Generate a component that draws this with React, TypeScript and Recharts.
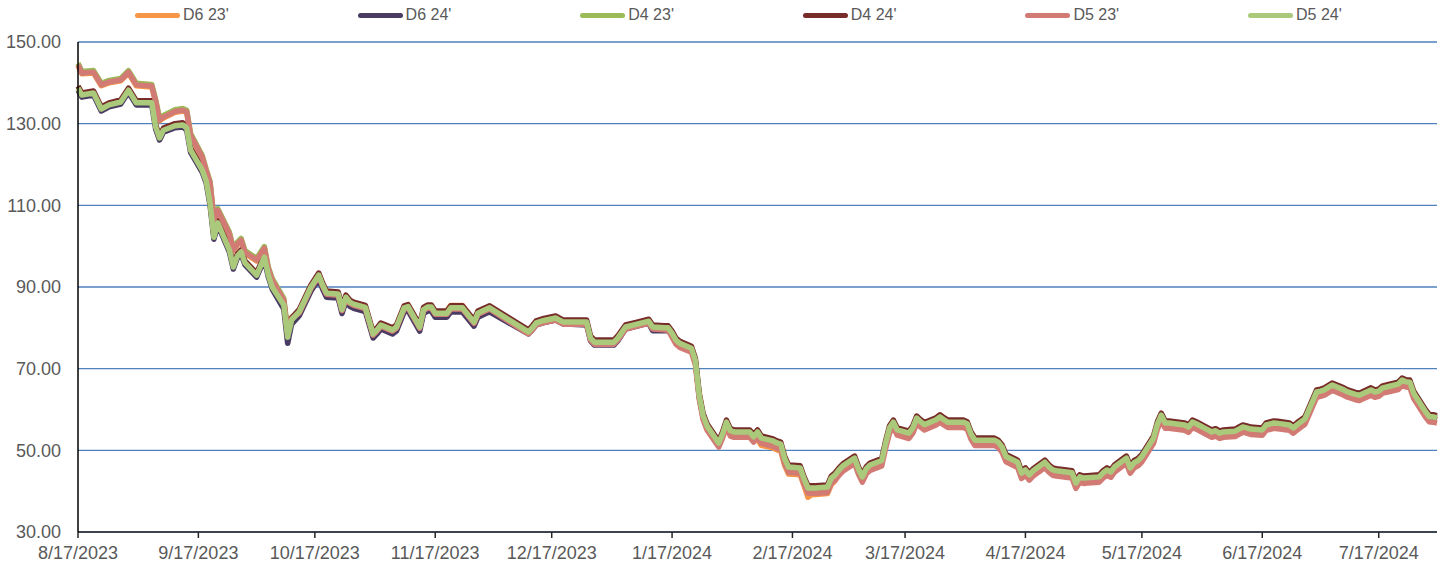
import { LineChart, Line, XAxis, YAxis, CartesianGrid, Legend } from 'recharts';

// trading dates shown on the chart
const dates: string[] = [
  '2023-08-17', '2023-08-18', '2023-08-21', '2023-08-23', '2023-08-25', '2023-08-28', '2023-08-30', '2023-09-01', '2023-09-05', '2023-09-06',
  '2023-09-07', '2023-09-08', '2023-09-11', '2023-09-13', '2023-09-14', '2023-09-15', '2023-09-18', '2023-09-19', '2023-09-20', '2023-09-21',
  '2023-09-22', '2023-09-25', '2023-09-26', '2023-09-27', '2023-09-28', '2023-09-29', '2023-10-02', '2023-10-04', '2023-10-05', '2023-10-06',
  '2023-10-09', '2023-10-10', '2023-10-11', '2023-10-13', '2023-10-16', '2023-10-18', '2023-10-19', '2023-10-20', '2023-10-23', '2023-10-24',
  '2023-10-25', '2023-10-26', '2023-10-27', '2023-10-30', '2023-11-01', '2023-11-02', '2023-11-03', '2023-11-06', '2023-11-07', '2023-11-09',
  '2023-11-10', '2023-11-13', '2023-11-14', '2023-11-15', '2023-11-16', '2023-11-17', '2023-11-20', '2023-11-21', '2023-11-24', '2023-11-27',
  '2023-11-28', '2023-11-30', '2023-12-01', '2023-12-11', '2023-12-12', '2023-12-13', '2023-12-15', '2023-12-18', '2023-12-20', '2023-12-22',
  '2023-12-26', '2023-12-27', '2023-12-28', '2024-01-02', '2024-01-03', '2024-01-05', '2024-01-08', '2024-01-10', '2024-01-11', '2024-01-12',
  '2024-01-15', '2024-01-16', '2024-01-17', '2024-01-18', '2024-01-19', '2024-01-22', '2024-01-23', '2024-01-24', '2024-01-25', '2024-01-26',
  '2024-01-29', '2024-01-30', '2024-01-31', '2024-02-01', '2024-02-02', '2024-02-05', '2024-02-06', '2024-02-07', '2024-02-08', '2024-02-09',
  '2024-02-12', '2024-02-13', '2024-02-14', '2024-02-15', '2024-02-16', '2024-02-19', '2024-02-20', '2024-02-21', '2024-02-22', '2024-02-23',
  '2024-02-26', '2024-02-27', '2024-02-28', '2024-02-29', '2024-03-01', '2024-03-04', '2024-03-05', '2024-03-06', '2024-03-07', '2024-03-08',
  '2024-03-11', '2024-03-12', '2024-03-13', '2024-03-14', '2024-03-15', '2024-03-18', '2024-03-19', '2024-03-20', '2024-03-21', '2024-03-22',
  '2024-03-25', '2024-03-26', '2024-03-27', '2024-03-28', '2024-04-01', '2024-04-02', '2024-04-03', '2024-04-04', '2024-04-05', '2024-04-08',
  '2024-04-09', '2024-04-10', '2024-04-11', '2024-04-12', '2024-04-15', '2024-04-16', '2024-04-17', '2024-04-18', '2024-04-19', '2024-04-22',
  '2024-04-23', '2024-04-24', '2024-04-25', '2024-04-26', '2024-04-29', '2024-04-30', '2024-05-01', '2024-05-02', '2024-05-03', '2024-05-06',
  '2024-05-07', '2024-05-08', '2024-05-09', '2024-05-10', '2024-05-13', '2024-05-14', '2024-05-15', '2024-05-16', '2024-05-17', '2024-05-20',
  '2024-05-21', '2024-05-22', '2024-05-23', '2024-05-24', '2024-05-28', '2024-05-29', '2024-05-30', '2024-05-31', '2024-06-03', '2024-06-04',
  '2024-06-05', '2024-06-06', '2024-06-07', '2024-06-10', '2024-06-11', '2024-06-12', '2024-06-13', '2024-06-14', '2024-06-17', '2024-06-18',
  '2024-06-20', '2024-06-21', '2024-06-24', '2024-06-25', '2024-06-26', '2024-06-27', '2024-06-28', '2024-07-01', '2024-07-02', '2024-07-03',
  '2024-07-05', '2024-07-08', '2024-07-09', '2024-07-10', '2024-07-11', '2024-07-12', '2024-07-15', '2024-07-16', '2024-07-17', '2024-07-18',
  '2024-07-19', '2024-07-22', '2024-07-23', '2024-07-24', '2024-07-25', '2024-07-26', '2024-07-29', '2024-07-30', '2024-07-31', '2024-08-01',
];

const d6_23: number[] = [
  144.2, 142.2, 142.4, 139.3, 140.0, 140.5, 142.4, 139.3, 139.0, 135.3,
  130.7, 131.4, 132.8, 133.1, 132.7, 127.0, 121.6, 118.3, 115.3, 106.3,
  108.6, 102.8, 98.9, 100.3, 101.3, 98.3, 96.4, 99.3, 94.3, 91.5,
  86.6, 78.5, 82.0, 83.8, 89.8, 92.7, 90.3, 88.3, 88.1, 84.3,
  87.3, 86.1, 85.6, 84.8, 78.3, 79.3, 80.5, 79.3, 80.0, 84.7,
  85.0, 80.0, 84.3, 84.9, 84.9, 83.4, 84.2, 85.5, 85.5, 81.2,
  83.4, 84.3, 84.7, 78.8, 79.8, 81.0, 81.6, 82.2, 81.2, 81.2,
  81.2, 77.3, 76.3, 76.3, 77.3, 80.0, 80.7, 81.2, 81.4, 80.0,
  79.8, 79.8, 78.5, 76.8, 76.0, 74.8, 71.8, 63.3, 58.3, 55.8,
  51.6, 53.8, 56.7, 54.6, 54.3, 54.3, 54.3, 53.1, 52.7, 51.2,
  50.6, 50.1, 49.8, 46.3, 44.2, 44.0, 41.3, 38.5, 39.2, 39.2,
  39.4, 41.6, 42.6, 45.0, 46.0, 47.9, 45.3, 43.3, 45.3, 46.2,
  47.3, 51.6, 55.3, 56.7, 54.8, 54.0, 55.3, 57.7, 56.8, 56.1,
  57.3, 58.0, 57.3, 56.7, 56.7, 56.3, 53.8, 52.3, 52.3, 52.3,
  52.3, 51.8, 50.6, 48.3, 46.9, 44.2, 45.0, 43.8, 44.8, 46.9,
  45.8, 45.0, 44.8, 44.7, 44.3, 41.8, 43.3, 43.0, 43.1, 43.3,
  44.3, 45.0, 44.5, 45.8, 47.9, 45.5, 46.8, 47.3, 48.3, 52.8,
  56.3, 58.4, 56.5, 56.5, 56.0, 55.5, 56.7, 56.3, 54.8, 54.3,
  54.6, 54.0, 54.3, 54.5, 55.0, 55.5, 55.3, 55.0, 54.8, 56.0,
  56.5, 56.4, 56.0, 55.3, 56.1, 56.8, 57.5, 64.1, 64.3, 64.6,
  65.8, 64.6, 64.1, 63.8, 63.5, 63.3, 64.6, 64.1, 64.3, 65.1,
  65.3, 66.0, 67.0, 66.6, 66.5, 63.8, 59.3, 58.1, 58.0, 57.8,
];

const d6_24: number[] = [
  138.2, 136.5, 137.0, 133.1, 134.1, 134.8, 137.7, 134.6, 134.6, 128.7,
  126.0, 127.9, 129.0, 129.2, 128.4, 123.0, 118.1, 115.5, 110.1, 101.7,
  105.2, 98.5, 94.4, 97.0, 98.1, 95.4, 92.4, 96.8, 92.5, 89.5,
  84.6, 76.2, 80.9, 83.0, 89.0, 91.9, 89.5, 87.5, 87.3, 83.5,
  86.5, 85.3, 84.8, 84.0, 77.5, 78.5, 79.7, 78.5, 79.2, 83.9,
  84.2, 79.2, 83.5, 84.1, 84.1, 82.6, 82.6, 83.9, 83.9, 80.4,
  82.6, 83.5, 83.9, 78.5, 79.5, 80.7, 81.3, 81.9, 80.9, 80.9,
  80.7, 76.8, 75.8, 75.8, 76.8, 79.7, 80.4, 80.9, 81.1, 79.3,
  79.3, 79.3, 78.2, 76.5, 75.7, 74.5, 71.5, 63.0, 58.0, 55.5,
  51.3, 53.5, 56.4, 54.3, 54.0, 54.0, 54.0, 52.8, 54.0, 52.5,
  51.8, 51.3, 51.0, 47.5, 45.4, 45.2, 42.5, 40.3, 40.3, 40.3,
  40.5, 42.7, 43.5, 44.7, 45.7, 47.6, 45.0, 43.0, 45.0, 45.9,
  47.0, 51.3, 55.0, 56.4, 54.5, 53.7, 55.0, 57.4, 56.5, 55.8,
  57.0, 57.7, 57.0, 56.4, 56.4, 56.0, 53.5, 52.0, 52.0, 52.0,
  52.0, 51.5, 50.3, 48.0, 46.6, 43.9, 44.7, 43.5, 44.5, 46.6,
  45.5, 44.7, 44.5, 44.4, 44.0, 41.5, 43.0, 42.7, 42.8, 43.0,
  44.0, 44.7, 44.2, 45.5, 47.6, 45.2, 46.5, 47.0, 48.0, 52.5,
  56.0, 58.1, 56.2, 56.2, 55.7, 55.2, 56.4, 56.0, 54.5, 54.0,
  54.3, 53.7, 54.0, 54.2, 54.7, 55.2, 55.0, 54.7, 54.5, 55.7,
  56.2, 56.1, 55.7, 55.0, 55.8, 56.5, 57.2, 63.8, 64.0, 64.3,
  65.5, 64.3, 63.8, 63.5, 63.2, 63.0, 64.3, 63.8, 64.0, 64.8,
  65.0, 65.7, 66.7, 66.3, 66.2, 63.5, 59.0, 57.8, 57.7, 57.5,
];

const d4_23: number[] = [
  144.8, 142.8, 143.0, 139.9, 140.6, 141.1, 143.0, 139.9, 139.6, 135.9,
  131.3, 132.0, 133.4, 133.7, 133.3, 127.6, 122.2, 118.9, 115.9, 106.9,
  109.2, 103.4, 99.5, 100.9, 101.9, 98.9, 97.0, 99.9, 94.9, 92.1,
  87.2, 79.1, 82.6, 84.0, 90.0, 92.9, 90.5, 88.5, 88.3, 84.5,
  87.5, 86.3, 85.8, 85.0, 78.5, 79.5, 80.7, 79.5, 80.2, 84.9,
  85.2, 80.2, 84.5, 85.1, 85.1, 83.6, 83.6, 84.9, 84.9, 81.4,
  83.6, 84.5, 84.9, 79.0, 80.0, 81.2, 81.8, 82.4, 81.4, 81.4,
  81.4, 77.5, 76.5, 76.5, 77.5, 80.2, 80.9, 81.4, 81.6, 80.2,
  80.0, 80.0, 78.7, 77.0, 76.2, 75.0, 72.0, 63.5, 58.5, 56.0,
  51.8, 54.0, 56.9, 54.8, 54.5, 54.5, 54.5, 53.3, 54.5, 53.0,
  52.3, 51.8, 51.5, 48.0, 45.9, 45.7, 43.0, 40.8, 40.8, 40.8,
  41.0, 43.2, 44.0, 45.2, 46.2, 48.1, 45.5, 43.5, 45.5, 46.4,
  47.5, 51.8, 55.5, 56.9, 55.0, 54.2, 55.5, 57.9, 57.0, 56.3,
  57.5, 58.2, 57.5, 56.9, 56.9, 56.5, 54.0, 52.5, 52.5, 52.5,
  52.5, 52.0, 50.8, 48.5, 47.1, 44.4, 45.2, 44.0, 45.0, 47.1,
  46.0, 45.2, 45.0, 44.9, 44.5, 42.0, 43.5, 43.2, 43.3, 43.5,
  44.5, 45.2, 44.7, 46.0, 48.1, 45.7, 47.0, 47.5, 48.5, 53.0,
  56.5, 58.6, 56.7, 56.7, 56.2, 55.7, 56.9, 56.5, 55.0, 54.5,
  54.8, 54.2, 54.5, 54.7, 55.2, 55.7, 55.5, 55.2, 55.0, 56.2,
  56.7, 56.6, 56.2, 55.5, 56.3, 57.0, 57.7, 64.3, 64.5, 64.8,
  66.0, 64.8, 64.3, 64.0, 63.7, 63.5, 64.8, 64.3, 64.5, 65.3,
  65.5, 66.2, 67.2, 66.8, 66.7, 64.0, 59.5, 58.3, 58.2, 58.0,
];

const d4_24: number[] = [
  139.2, 137.5, 138.0, 134.1, 135.1, 135.8, 138.7, 135.6, 135.6, 129.7,
  127.0, 128.9, 130.0, 130.2, 129.4, 124.0, 119.1, 116.5, 111.1, 102.7,
  106.2, 99.5, 95.4, 98.0, 99.1, 96.4, 93.4, 97.8, 93.5, 90.5,
  86.1, 78.2, 82.4, 84.5, 90.5, 93.4, 91.0, 89.0, 88.8, 85.0,
  88.0, 86.8, 86.3, 85.5, 79.0, 80.0, 81.2, 80.0, 80.7, 85.4,
  85.7, 80.7, 85.0, 85.6, 85.6, 84.1, 84.1, 85.4, 85.4, 81.9,
  84.1, 85.0, 85.4, 79.5, 80.5, 81.7, 82.3, 82.9, 81.9, 81.9,
  81.9, 78.0, 77.0, 77.0, 78.0, 80.7, 81.4, 81.9, 82.1, 80.7,
  80.5, 80.5, 79.2, 77.5, 76.7, 75.5, 72.5, 64.0, 59.0, 56.5,
  52.3, 54.5, 57.4, 55.3, 55.0, 55.0, 55.0, 53.8, 55.0, 53.5,
  52.8, 52.3, 52.0, 48.5, 46.4, 46.2, 43.5, 41.3, 41.3, 41.3,
  41.5, 43.7, 44.5, 45.7, 46.7, 48.6, 46.0, 44.0, 46.0, 46.9,
  48.0, 52.3, 56.0, 57.4, 55.5, 54.7, 56.0, 58.4, 57.5, 56.8,
  58.0, 58.7, 58.0, 57.4, 57.4, 57.0, 54.5, 53.0, 53.0, 53.0,
  53.0, 52.5, 51.3, 49.0, 47.6, 44.9, 45.7, 44.5, 45.5, 47.6,
  46.5, 45.7, 45.5, 45.4, 45.0, 42.5, 44.0, 43.7, 43.8, 44.0,
  45.0, 45.7, 45.2, 46.5, 48.6, 46.2, 47.5, 48.0, 49.0, 53.5,
  57.0, 59.1, 57.2, 57.2, 56.7, 56.2, 57.4, 57.0, 55.5, 55.0,
  55.3, 54.7, 55.0, 55.2, 55.7, 56.2, 56.0, 55.7, 55.5, 56.7,
  57.2, 57.1, 56.7, 56.0, 56.8, 57.5, 58.2, 64.8, 65.0, 65.3,
  66.5, 65.3, 64.8, 64.5, 64.2, 64.0, 65.3, 64.8, 65.0, 65.8,
  66.0, 66.7, 67.7, 67.3, 67.2, 64.5, 60.0, 58.8, 58.7, 58.5,
];

const d5_23: number[] = [
  144.4, 142.4, 142.6, 139.5, 140.2, 140.7, 142.6, 139.5, 139.2, 135.5,
  130.9, 131.6, 133.0, 133.3, 132.9, 127.2, 121.8, 118.5, 115.5, 106.5,
  108.8, 103.0, 99.1, 100.5, 101.5, 98.5, 96.6, 99.5, 94.5, 91.7,
  86.8, 78.7, 82.2, 83.7, 89.7, 92.6, 90.2, 88.2, 88.0, 84.2,
  87.2, 86.0, 85.5, 84.7, 78.2, 79.2, 80.4, 79.2, 79.9, 84.6,
  84.9, 79.9, 84.2, 84.8, 84.8, 83.3, 83.3, 84.6, 84.6, 81.1,
  83.3, 84.2, 84.6, 78.5, 79.5, 80.7, 81.3, 81.9, 80.9, 80.9,
  80.9, 77.0, 76.0, 76.0, 77.0, 79.7, 80.4, 80.9, 81.1, 79.7,
  79.5, 79.5, 77.7, 76.0, 75.2, 74.0, 71.0, 62.5, 57.5, 55.0,
  50.8, 53.0, 55.9, 53.5, 53.2, 53.2, 53.2, 52.0, 53.2, 51.7,
  51.0, 50.5, 50.2, 46.7, 44.6, 44.4, 41.7, 39.5, 39.5, 39.5,
  39.7, 41.9, 42.7, 43.9, 44.9, 46.8, 44.2, 42.2, 44.2, 45.1,
  46.2, 50.5, 54.2, 55.6, 53.7, 52.9, 54.2, 56.6, 55.7, 55.0,
  56.2, 56.9, 56.2, 55.6, 55.6, 55.2, 52.7, 51.2, 51.2, 51.2,
  51.2, 50.7, 49.5, 47.2, 45.8, 43.1, 43.9, 42.7, 43.7, 45.8,
  44.7, 43.9, 43.7, 43.6, 43.2, 40.7, 42.2, 41.9, 42.0, 42.2,
  43.2, 43.9, 43.4, 44.7, 46.8, 44.4, 45.7, 46.2, 47.2, 51.7,
  55.2, 57.3, 55.4, 55.4, 54.9, 54.4, 55.6, 55.2, 53.7, 53.2,
  53.5, 52.9, 53.2, 53.4, 53.9, 54.4, 54.2, 53.9, 53.7, 54.9,
  55.4, 55.3, 54.9, 54.2, 55.0, 55.7, 56.4, 63.0, 63.2, 63.5,
  64.7, 63.5, 63.0, 62.7, 62.4, 62.2, 63.5, 63.0, 63.2, 64.0,
  64.2, 64.9, 65.9, 65.5, 65.4, 62.7, 58.2, 57.0, 56.9, 56.7,
];

const d5_24: number[] = [
  138.7, 137.0, 137.5, 133.6, 134.6, 135.3, 138.2, 135.1, 135.1, 129.2,
  126.5, 128.4, 129.5, 129.7, 128.9, 123.5, 118.6, 116.0, 110.6, 102.2,
  105.7, 99.0, 94.9, 97.5, 98.6, 95.9, 92.9, 97.3, 93.0, 90.0,
  85.6, 77.7, 81.9, 84.0, 90.0, 92.9, 90.5, 88.5, 88.3, 84.5,
  87.5, 86.3, 85.8, 85.0, 78.5, 79.5, 80.7, 79.5, 80.2, 84.9,
  85.2, 80.2, 84.5, 85.1, 85.1, 83.6, 83.6, 84.9, 84.9, 81.4,
  83.6, 84.5, 84.9, 79.0, 80.0, 81.2, 81.8, 82.4, 81.4, 81.4,
  81.4, 77.5, 76.5, 76.5, 77.5, 80.2, 80.9, 81.4, 81.6, 80.2,
  80.0, 80.0, 78.7, 77.0, 76.2, 75.0, 72.0, 63.5, 58.5, 56.0,
  51.8, 54.0, 56.9, 54.8, 54.5, 54.5, 54.5, 53.3, 54.5, 53.0,
  52.3, 51.8, 51.5, 48.0, 45.9, 45.7, 43.0, 40.8, 40.8, 40.8,
  41.0, 43.2, 44.0, 45.2, 46.2, 48.1, 45.5, 43.5, 45.5, 46.4,
  47.5, 51.8, 55.5, 56.9, 55.0, 54.2, 55.5, 57.9, 57.0, 56.3,
  57.5, 58.2, 57.5, 56.9, 56.9, 56.5, 54.0, 52.5, 52.5, 52.5,
  52.5, 52.0, 50.8, 48.5, 47.1, 44.4, 45.2, 44.0, 45.0, 47.1,
  46.0, 45.2, 45.0, 44.9, 44.5, 42.0, 43.5, 43.2, 43.3, 43.5,
  44.5, 45.2, 44.7, 46.0, 48.1, 45.7, 47.0, 47.5, 48.5, 53.0,
  56.5, 58.6, 56.7, 56.7, 56.2, 55.7, 56.9, 56.5, 55.0, 54.5,
  54.8, 54.2, 54.5, 54.7, 55.2, 55.7, 55.5, 55.2, 55.0, 56.2,
  56.7, 56.6, 56.2, 55.5, 56.3, 57.0, 57.7, 64.3, 64.5, 64.8,
  66.0, 64.8, 64.3, 64.0, 63.7, 63.5, 64.8, 64.3, 64.5, 65.3,
  65.5, 66.2, 67.2, 66.8, 66.7, 64.0, 59.5, 58.3, 58.2, 58.0,
];

const xTickDates = [
  '2023-08-17', '2023-09-17', '2023-10-17', '2023-11-17', '2023-12-17', '2024-01-17',
  '2024-02-17', '2024-03-17', '2024-04-17', '2024-05-17', '2024-06-17', '2024-07-17',
];
const yTicks = [30, 50, 70, 90, 110, 130, 150];

const series = [
  { key: 'd6_23', name: "D6 23'", color: '#F79646', values: d6_23 },
  { key: 'd6_24', name: "D6 24'", color: '#4A3B63', values: d6_24 },
  { key: 'd4_23', name: "D4 23'", color: '#9BBB59', values: d4_23 },
  { key: 'd4_24', name: "D4 24'", color: '#772C2A', values: d4_24 },
  { key: 'd5_23', name: "D5 23'", color: '#D27B74', values: d5_23 },
  { key: 'd5_24', name: "D5 24'", color: '#ABC97B', values: d5_24 },
];

const toDay = (s: string) => {
  const [y, m, d] = s.split('-').map(Number);
  return Date.UTC(y, m - 1, d) / 86400000;
};

const fmtDate = (t: number) => {
  const dt = new Date(t * 86400000);
  return `${dt.getUTCMonth() + 1}/${dt.getUTCDate()}/${dt.getUTCFullYear()}`;
};

const data = dates.map((d, i) => {
  const row: Record<string, number> = { t: toDay(d) };
  series.forEach((s) => {
    row[s.key] = s.values[i];
  });
  return row;
});

const FONT = '"Liberation Sans", Arial, sans-serif';

const renderLegend = () => (
  <div style={{ position: 'relative', height: 42, width: 1445 }}>
    {series.map((s, i) => (
      <div
        key={s.key}
        style={{ position: 'absolute', left: 135 + i * 222.6, top: 6, display: 'flex', alignItems: 'center' }}
      >
        <span style={{ display: 'inline-block', width: 45, height: 5, borderRadius: 3, background: s.color }} />
        <span style={{ marginLeft: 3, fontSize: 16, color: '#595959', fontFamily: FONT }}>{s.name}</span>
      </div>
    ))}
  </div>
);

export default function App() {
  return (
    <div style={{ position: 'absolute', left: 0, top: 0, background: '#fff' }}>
      <LineChart
        width={1445}
        height={571}
        data={data}
        margin={{ top: 0, right: 8, bottom: 9, left: 8 }}
        style={{ fontFamily: FONT }}
      >
        <Legend verticalAlign="top" align="left" content={renderLegend} wrapperStyle={{ top: 0, left: 0 }} />
        <CartesianGrid vertical={false} stroke="#4F81BD" strokeWidth={1.3} />
        <XAxis
          dataKey="t"
          type="number"
          domain={[toDay('2023-08-17'), toDay('2024-08-01')]}
          ticks={xTickDates.map(toDay)}
          tickFormatter={fmtDate}
          stroke="#262626"
          strokeWidth={1.5}
          tickSize={6}
          tickMargin={8}
          height={30}
          tick={{ fill: '#595959', fontSize: 18 }}
        />
        <YAxis
          domain={[30, 150]}
          ticks={yTicks}
          tickFormatter={(v: number) => v.toFixed(2)}
          stroke="#000"
          strokeWidth={1.5}
          tickLine={false}
          tickSize={0}
          tickMargin={17}
          width={70}
          tick={{ fill: '#595959', fontSize: 18 }}
        />
        {series.map((s) => (
          <Line
            key={s.key}
            type="linear"
            dataKey={s.key}
            name={s.name}
            stroke={s.color}
            strokeWidth={5.5}
            strokeLinejoin="round"
            dot={false}
            isAnimationActive={false}
          />
        ))}
      </LineChart>
    </div>
  );
}
